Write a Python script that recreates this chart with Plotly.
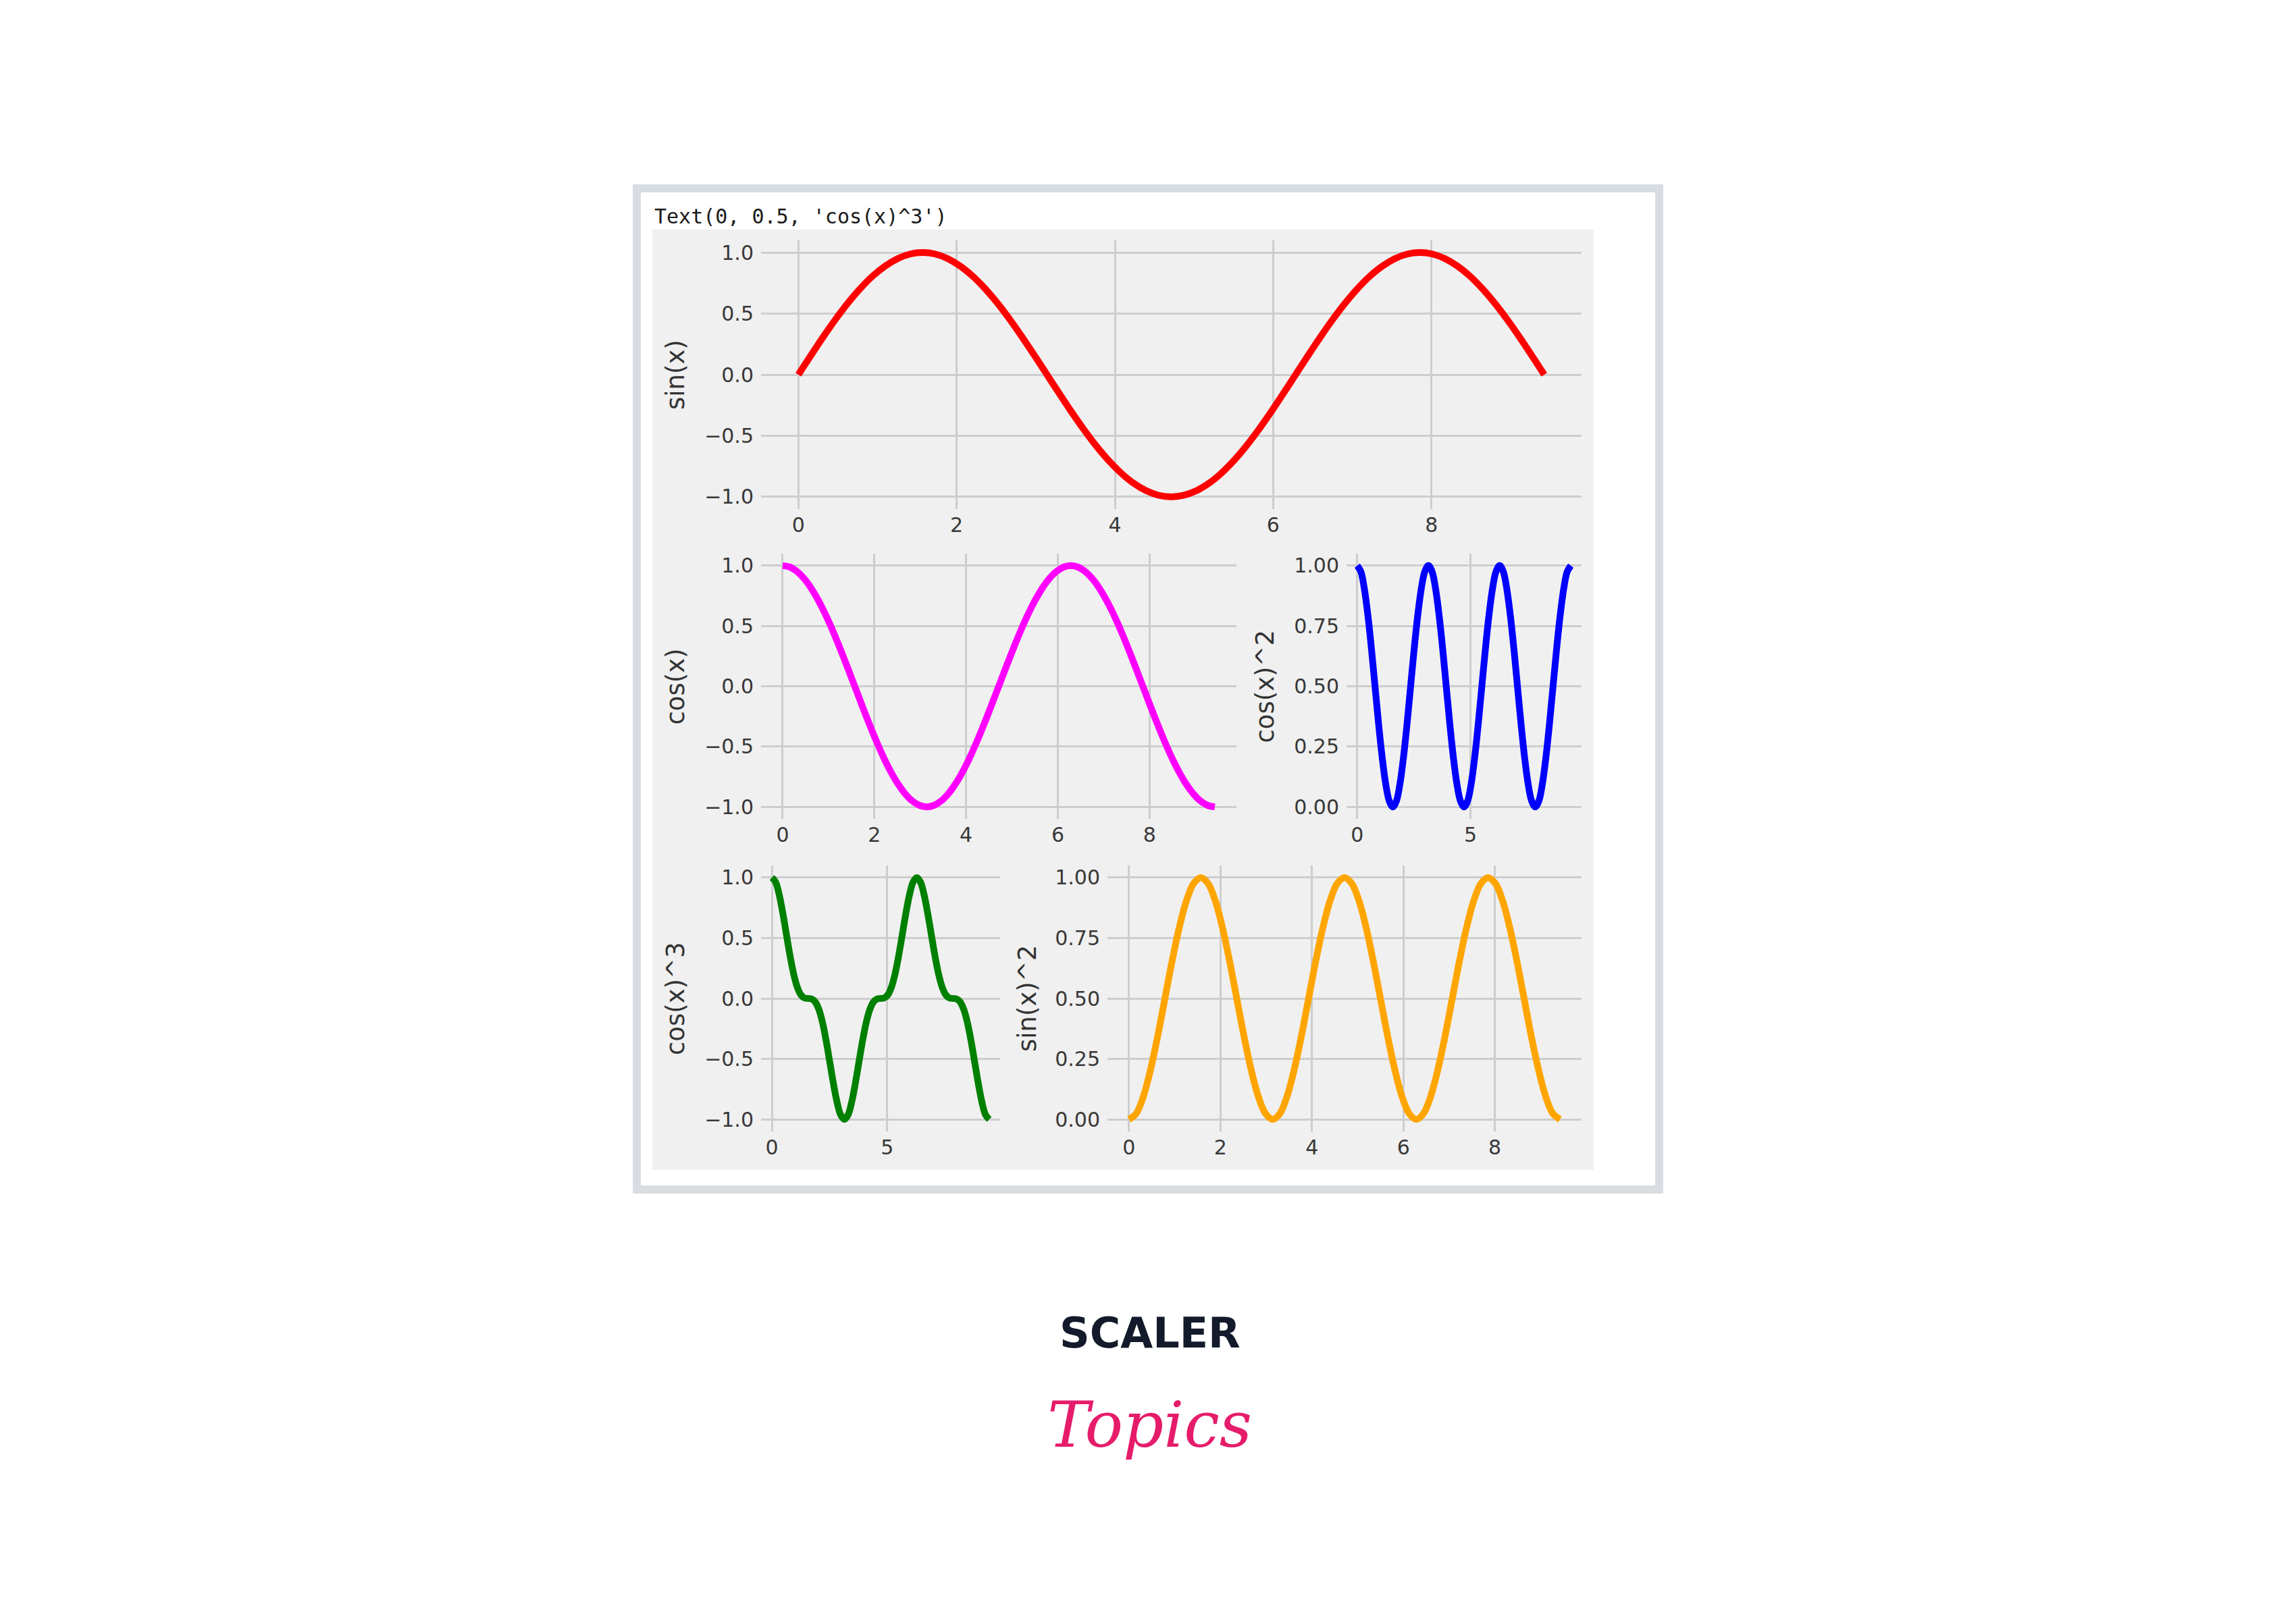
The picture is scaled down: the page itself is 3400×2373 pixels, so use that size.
import plotly.graph_objects as go

# ---------------- data ----------------
x_vals = [0.000, 0.157, 0.314, 0.471, 0.628, 0.785, 0.942, 1.100, 1.257, 1.414,
          1.571, 1.728, 1.885, 2.042, 2.199, 2.356, 2.513, 2.670, 2.827, 2.985,
          3.142, 3.299, 3.456, 3.613, 3.770, 3.927, 4.084, 4.241, 4.398, 4.555,
          4.712, 4.869, 5.027, 5.184, 5.341, 5.498, 5.655, 5.812, 5.969, 6.126,
          6.283, 6.440, 6.597, 6.754, 6.912, 7.069, 7.226, 7.383, 7.540, 7.697,
          7.854, 8.011, 8.168, 8.325, 8.482, 8.639, 8.796, 8.954, 9.111, 9.268,
          9.425]

sin_vals = [0.000, 0.156, 0.309, 0.454, 0.588, 0.707, 0.809, 0.891, 0.951, 0.988,
            1.000, 0.988, 0.951, 0.891, 0.809, 0.707, 0.588, 0.454, 0.309, 0.156,
            0.000, -0.156, -0.309, -0.454, -0.588, -0.707, -0.809, -0.891, -0.951, -0.988,
            -1.000, -0.988, -0.951, -0.891, -0.809, -0.707, -0.588, -0.454, -0.309, -0.156,
            0.000, 0.156, 0.309, 0.454, 0.588, 0.707, 0.809, 0.891, 0.951, 0.988,
            1.000, 0.988, 0.951, 0.891, 0.809, 0.707, 0.588, 0.454, 0.309, 0.156,
            0.000]

cos_vals = [1.000, 0.988, 0.951, 0.891, 0.809, 0.707, 0.588, 0.454, 0.309, 0.156,
            0.000, -0.156, -0.309, -0.454, -0.588, -0.707, -0.809, -0.891, -0.951, -0.988,
            -1.000, -0.988, -0.951, -0.891, -0.809, -0.707, -0.588, -0.454, -0.309, -0.156,
            0.000, 0.156, 0.309, 0.454, 0.588, 0.707, 0.809, 0.891, 0.951, 0.988,
            1.000, 0.988, 0.951, 0.891, 0.809, 0.707, 0.588, 0.454, 0.309, 0.156,
            0.000, -0.156, -0.309, -0.454, -0.588, -0.707, -0.809, -0.891, -0.951, -0.988,
            -1.000]

cos2_vals = [1.000, 0.976, 0.905, 0.794, 0.655, 0.500, 0.345, 0.206, 0.095, 0.024,
             0.000, 0.024, 0.095, 0.206, 0.345, 0.500, 0.655, 0.794, 0.905, 0.976,
             1.000, 0.976, 0.905, 0.794, 0.655, 0.500, 0.345, 0.206, 0.095, 0.024,
             0.000, 0.024, 0.095, 0.206, 0.345, 0.500, 0.655, 0.794, 0.905, 0.976,
             1.000, 0.976, 0.905, 0.794, 0.655, 0.500, 0.345, 0.206, 0.095, 0.024,
             0.000, 0.024, 0.095, 0.206, 0.345, 0.500, 0.655, 0.794, 0.905, 0.976,
             1.000]

cos3_vals = [1.000, 0.964, 0.860, 0.707, 0.530, 0.354, 0.203, 0.094, 0.030, 0.004,
             0.000, -0.004, -0.030, -0.094, -0.203, -0.354, -0.530, -0.707, -0.860, -0.964,
             -1.000, -0.964, -0.860, -0.707, -0.530, -0.354, -0.203, -0.094, -0.030, -0.004,
             0.000, 0.004, 0.030, 0.094, 0.203, 0.354, 0.530, 0.707, 0.860, 0.964,
             1.000, 0.964, 0.860, 0.707, 0.530, 0.354, 0.203, 0.094, 0.030, 0.004,
             0.000, -0.004, -0.030, -0.094, -0.203, -0.354, -0.530, -0.707, -0.860, -0.964,
             -1.000]

sin2_vals = [0.000, 0.024, 0.095, 0.206, 0.345, 0.500, 0.655, 0.794, 0.905, 0.976,
             1.000, 0.976, 0.905, 0.794, 0.655, 0.500, 0.345, 0.206, 0.095, 0.024,
             0.000, 0.024, 0.095, 0.206, 0.345, 0.500, 0.655, 0.794, 0.905, 0.976,
             1.000, 0.976, 0.905, 0.794, 0.655, 0.500, 0.345, 0.206, 0.095, 0.024,
             0.000, 0.024, 0.095, 0.206, 0.345, 0.500, 0.655, 0.794, 0.905, 0.976,
             1.000, 0.976, 0.905, 0.794, 0.655, 0.500, 0.345, 0.206, 0.095, 0.024,
             0.000]

y_labels = ["sin(x)", "cos(x)", "cos(x)^2", "cos(x)^3", "sin(x)^2"]

x_ticks_wide = [0, 2, 4, 6, 8]
x_ticktext_wide = ["0", "2", "4", "6", "8"]
x_ticks_narrow = [0, 5]
x_ticktext_narrow = ["0", "5"]
y_ticks_pm = [-1.0, -0.5, 0.0, 0.5, 1.0]
y_ticktext_pm = ["\u22121.0", "\u22120.5", "0.0", "0.5", "1.0"]
y_ticks_unit = [0.0, 0.25, 0.5, 0.75, 1.0]
y_ticktext_unit = ["0.00", "0.25", "0.50", "0.75", "1.00"]

header_text = "Text(0, 0.5, 'cos(x)^3')"
logo_top = "SCALER"
logo_bottom = "Topics"

# ---------------- geometry ----------------
OFF = 8
W, H = 3384, 2340


def px(X):
    return (X - OFF) / W


def py(Y):
    return 1 - (Y - OFF) / H


XR = [-0.471, 9.896]
YR_PM = [-1.1, 1.1]
YR_UNIT = [-0.05, 1.05]

# (x0, x1, ytop, ybottom) in page pixels
boxes = [
    (1127, 2342, 356, 754),
    (1127, 1831, 820, 1213),
    (1994, 2342, 820, 1213),
    (1127, 1481, 1282, 1676),
    (1640, 2342, 1282, 1676),
]
series = [sin_vals, cos_vals, cos2_vals, cos3_vals, sin2_vals]
colors = ["#ff0000", "#ff00ff", "#0000ff", "#008000", "#ffa500"]
xt = [(x_ticks_wide, x_ticktext_wide), (x_ticks_wide, x_ticktext_wide),
      (x_ticks_narrow, x_ticktext_narrow), (x_ticks_narrow, x_ticktext_narrow),
      (x_ticks_wide, x_ticktext_wide)]
yt = [(y_ticks_pm, y_ticktext_pm, YR_PM), (y_ticks_pm, y_ticktext_pm, YR_PM),
      (y_ticks_unit, y_ticktext_unit, YR_UNIT), (y_ticks_pm, y_ticktext_pm, YR_PM),
      (y_ticks_unit, y_ticktext_unit, YR_UNIT)]
label_x = [1000, 1000, 1873, 1000, 1521]

TICK_FONT = dict(family="DejaVu Sans", size=30, color="#383838")
GRID = "#cdcdcd"

fig = go.Figure()
layout = dict(
    width=W, height=H,
    margin=dict(l=0, r=0, t=0, b=0, pad=0),
    paper_bgcolor="#ffffff",
    plot_bgcolor="#f0f0f0",
    showlegend=False,
)

annotations = []
for i, (box, ys, col) in enumerate(zip(boxes, series, colors)):
    n = "" if i == 0 else str(i + 1)
    fig.add_trace(go.Scatter(x=x_vals, y=ys, mode="lines",
                             line=dict(color=col, width=10, shape="spline", smoothing=1.0),
                             xaxis="x" + n, yaxis="y" + n, hoverinfo="skip"))
    x0, x1, yt0, yb0 = box
    layout["xaxis" + n] = dict(
        domain=[px(x0), px(x1)], anchor="y" + n, range=XR,
        tickmode="array", tickvals=xt[i][0], ticktext=xt[i][1],
        showgrid=True, gridcolor=GRID, gridwidth=3, zeroline=False,
        showline=False, ticks="", tickfont=TICK_FONT, ticklabelstandoff=3,
    )
    layout["yaxis" + n] = dict(
        domain=[py(yb0), py(yt0)], anchor="x" + n, range=yt[i][2],
        tickmode="array", tickvals=yt[i][0], ticktext=yt[i][1],
        showgrid=True, gridcolor=GRID, gridwidth=3, zeroline=False,
        showline=False, ticks="", tickfont=TICK_FONT, ticklabelstandoff=10,
    )
    annotations.append(dict(
        text=y_labels[i], xref="paper", yref="paper",
        x=px(label_x[i]), y=py((yt0 + yb0) / 2), textangle=-90,
        xanchor="center", yanchor="middle", showarrow=False,
        font=dict(family="DejaVu Sans", size=37, color="#333333"),
    ))

annotations.append(dict(
    text=header_text, xref="paper", yref="paper", x=px(967), y=py(321),
    xanchor="left", yanchor="middle", showarrow=False,
    font=dict(family="DejaVu Sans Mono", size=30, color="#1a1a1a"),
))
annotations.append(dict(
    text="<b>" + logo_top + "</b>", xref="paper", yref="paper", x=px(1703), y=py(1974),
    xanchor="center", yanchor="middle", showarrow=False,
    font=dict(family="DejaVu Sans", size=62, color="#121a2b"),
))
annotations.append(dict(
    text="<i>" + logo_bottom + "</i>", xref="paper", yref="paper", x=px(1702), y=py(2110),
    xanchor="center", yanchor="middle", showarrow=False,
    font=dict(family="DejaVu Serif", size=94, color="#e61c6b"),
))

shapes = [
    dict(type="rect", xref="paper", yref="paper",
         x0=px(943), x1=px(2457), y0=py(1762), y1=py(279),
         line=dict(color="#d8dde2", width=12), fillcolor="#ffffff", layer="below"),
    dict(type="rect", xref="paper", yref="paper",
         x0=px(966), x1=px(2360), y0=py(1733), y1=py(340),
         line=dict(width=0), fillcolor="#f0f0f0", layer="below"),
]

layout["annotations"] = annotations
layout["shapes"] = shapes
fig.update_layout(**layout)

fig.write_html("out.html")
